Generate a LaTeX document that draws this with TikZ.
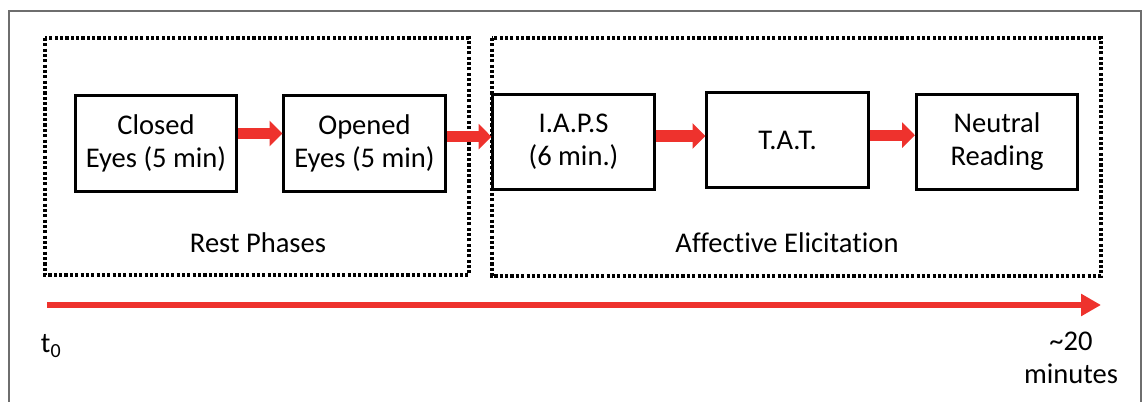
\documentclass[tikz,border=0pt]{standalone}
\usepackage{fontspec}
\setmainfont{Carlito}[Ligatures=NoCommon]
\usetikzlibrary{arrows.meta,positioning}
\definecolor{flowred}{RGB}{238,50,45}
\definecolor{framegray}{RGB}{110,110,110}
\begin{document}
\begin{tikzpicture}[x=0.025cm, y=-0.025cm,
	box/.style={draw, line width=2pt, minimum width=4.03cm, minimum height=2.38cm, align=center, font=\fontsize{20.3}{23.5}\selectfont},
	phase/.style={draw, line width=2.2pt, dash pattern=on 2.2pt off 1.6pt},
	label/.style={font=\fontsize{20.3}{23.5}\selectfont, align=center},
	flow/.style={flowred, line width=0.28cm, -{Triangle[length=0.32cm, width=0.62cm]}},
	timeline/.style={flowred, line width=0.15cm, -{Triangle[length=0.5cm, width=0.53cm]}}]
		\useasboundingbox (0,0) rectangle (1142,401);

		% Ramme
		\draw[framegray, line width=0.8pt] (9,410) -- (9,11) -- (1141,11) -- (1141,410);

		% Faser
		\draw[phase] (45,38) rectangle (469,275);
		\draw[phase] (492,38) rectangle (1101,276);
		\node[label] (rest) at (258,243) {Rest Phases};
		\node[label] (affect) at (787,243) {Affective Elicitation};

		% Steg
		\node[box] (closed) at (156,143.5) {Closed\\Eyes (5 min)};
		\node[box] (opened) at (364.5,143.5) {Opened\\Eyes (5 min)};
		\node[box] (iaps) at (573.5,142) {I.A.P.S\\(6 min.)};
		\node[box] (tat) at (787.5,140) {T.A.T.};
		\node[box] (neutral) at (997,142) {Neutral\\Reading};

		% Piler mellom stegene
		\draw[flow] ([yshift=0.25cm]closed.east) -- ([yshift=0.25cm]closed.east -| opened.west);
		\draw[flow] ([yshift=0.17cm]opened.east) -- ([yshift=0.17cm]opened.east -| iaps.west);
		\draw[flow] ([yshift=0.15cm]iaps.east) -- ([yshift=0.15cm]iaps.east -| tat.west);
		\draw[flow] ([yshift=0.12cm]tat.east) -- ([yshift=0.12cm]tat.east -| neutral.west);

		% Tidslinje
		\coordinate (start) at (47,305);
		\coordinate (end) at (1101,305);
		\draw[timeline] (start) -- (end);
		\node[label, anchor=west] (t0) at (36,346) {t\textsubscript{0}};
		\node[label] (tend) at (1071,358) {\textasciitilde20\\minutes};
	\end{tikzpicture}
\end{document}
